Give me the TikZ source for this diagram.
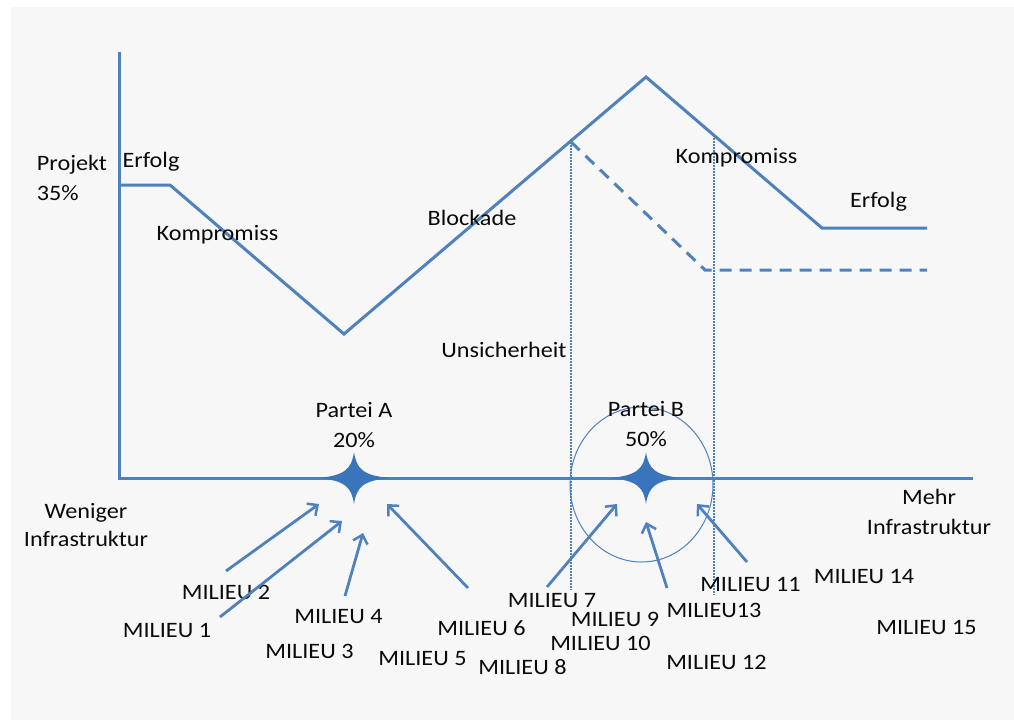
\documentclass[tikz,border=0pt]{standalone}
\usepackage{fontspec}
\setmainfont[FakeStretch=1.1]{Carlito}
\usetikzlibrary{arrows.meta}
\definecolor{lineblue}{RGB}{79,129,189}
\definecolor{starblue}{RGB}{58,117,188}
\definecolor{bggray}{RGB}{247,247,247}
\definecolor{txt}{RGB}{10,10,10}
\begin{document}
\begin{tikzpicture}[x=1pt,y=-1pt,
  lbl/.style={inner sep=0pt,text=txt,font=\fontsize{22}{30}\selectfont},
  lbl2/.style={lbl,align=center},
  curve/.style={draw=lineblue,line width=3pt,line join=miter},
  dashcurve/.style={curve,dash pattern=on 12pt off 8pt},
  guide/.style={draw=lineblue,line width=1.5pt,dash pattern=on 1.5pt off 1.5pt},
  axis/.style={draw=lineblue,line width=3pt},
  ring/.style={draw=lineblue,line width=1pt},
  pointer/.style={draw=lineblue,line width=2.8pt,-{Straight Barb[length=8pt,width=15pt,line width=2.5pt]}},
  fourstar/.pic={\fill[starblue] (-36,0) .. controls (-9,-2.5) and (-2.5,-9) .. (0,-26)
       .. controls (2.5,-9) and (9,-2.5) .. (36,0)
       .. controls (9,2.5) and (2.5,9) .. (0,26)
       .. controls (-2.5,9) and (-9,2.5) .. (-36,0) -- cycle;}
]
\useasboundingbox (0,0) rectangle (1014,720);
\fill[white] (0,0) rectangle (1014,720);
\fill[bggray] (11,7) rectangle (1014,720);

% axes
\coordinate (origin) at (119,478);
\coordinate (ytop) at (119,52);
\coordinate (xend) at (973,478);
\draw[axis] (ytop) -- (origin) -- (xend);

% main curve
\coordinate (p0) at (119,185);
\coordinate (p1) at (170,185);
\coordinate (p2) at (344,334);
\coordinate (p3) at (646,77);
\coordinate (p4) at (822,228);
\coordinate (p5) at (927,228);
\draw[curve] (p0) -- (p1) -- (p2) -- (p3) -- (p4) -- (p5);

% dashed alternative
\coordinate (d0) at (571,142);
\coordinate (d1) at (705,270);
\coordinate (d2) at (927,270);
\draw[dashcurve] (d0) -- (d1) -- (d2);

% dotted guides
\coordinate (g1b) at (571,590);
\coordinate (g2t) at (714,135);
\coordinate (g2b) at (714,595);
\draw[guide] (d0) -- (g1b);
\draw[guide] (g2t) -- (g2b);

% circle around Partei B
\coordinate (ringc) at (641.5,484.5);
\draw[ring] (ringc) ellipse [x radius=71.5pt, y radius=77.5pt];

% stars
\coordinate (starA) at (354,478);
\coordinate (starB) at (646,478);
\pic at (starA) {fourstar};
\pic at (starB) {fourstar};

% labels
\node[lbl,align=left] (projekt) at (72,178) {Projekt\\35\%};
\node[lbl] (erfolgL) at (151,162) {Erfolg};
\node[lbl] (kompL) at (217.5,235) {Kompromiss};
\node[lbl] (blockade) at (472,218) {Blockade};
\node[lbl] (unsicher) at (504,350) {Unsicherheit};
\node[lbl] (kompR) at (736.5,158) {Kompromiss};
\node[lbl] (erfolgR) at (878.5,202) {Erfolg};
\node[lbl2] (parteiA) at (354,425) {Partei A\\20\%};
\node[lbl2] (parteiB) at (646,424.5) {Partei B\\50\%};
\node[lbl2,font=\fontsize{22}{28}\selectfont] (weniger) at (86,525) {Weniger\\Infrastruktur};
\node[lbl2] (mehr) at (929,512) {Mehr\\Infrastruktur};

\node[lbl] (m1) at (167,630) {MILIEU 1};
\node[lbl] (m2) at (226,592) {MILIEU 2};
\node[lbl] (m3) at (309.5,651) {MILIEU 3};
\node[lbl] (m4) at (338.5,617) {MILIEU 4};
\node[lbl] (m5) at (422.5,659) {MILIEU 5};
\node[lbl] (m6) at (481.5,628) {MILIEU 6};
\node[lbl] (m7) at (552,601) {MILIEU 7};
\node[lbl] (m8) at (522.5,667) {MILIEU 8};
\node[lbl] (m9) at (615,619) {MILIEU 9};
\node[lbl] (m10) at (600.5,643) {MILIEU 10};
\node[lbl] (m11) at (750.5,584) {MILIEU 11};
\node[lbl] (m12) at (716.5,662) {MILIEU 12};
\node[lbl] (m13) at (714,610) {MILIEU13};
\node[lbl] (m14) at (864,576) {MILIEU 14};
\node[lbl] (m15) at (926.5,627) {MILIEU 15};

% arrows
\coordinate (a1t) at (220,617); \coordinate (a1h) at (342,521);
\coordinate (a2t) at (226,571); \coordinate (a2h) at (319,504);
\coordinate (a4t) at (345,596); \coordinate (a4h) at (363,533);
\coordinate (a6t) at (468,588); \coordinate (a6h) at (387,504);
\coordinate (a7t) at (547,587); \coordinate (a7h) at (617,504);
\coordinate (a9t) at (667,588); \coordinate (a9h) at (646,522);
\coordinate (a11t) at (747,562); \coordinate (a11h) at (697,504);
\draw[pointer] (a1t) -- (a1h);
\draw[pointer] (a2t) -- (a2h);
\draw[pointer] (a4t) -- (a4h);
\draw[pointer] (a6t) -- (a6h);
\draw[pointer] (a7t) -- (a7h);
\draw[pointer] (a9t) -- (a9h);
\draw[pointer] (a11t) -- (a11h);
\end{tikzpicture}
\end{document}
